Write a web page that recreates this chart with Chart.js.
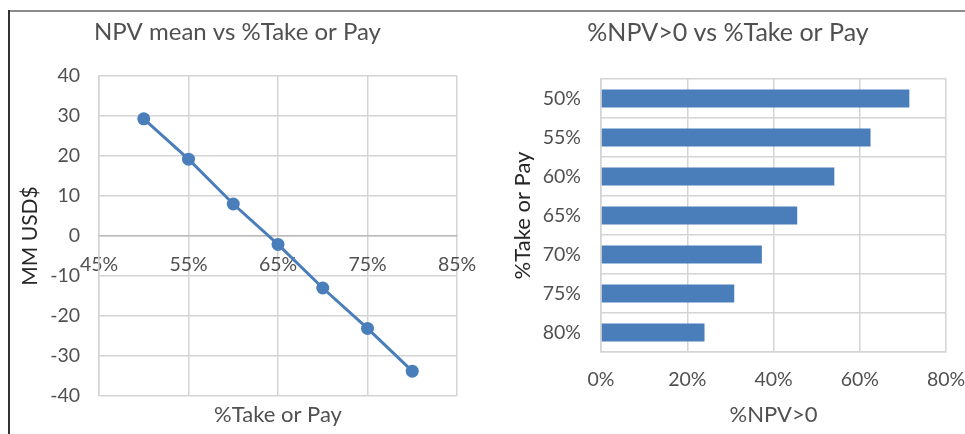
<!DOCTYPE html>
<html>
<head>
<meta charset="utf-8">
<script src="https://cdn.jsdelivr.net/npm/chart.js@4.4.1/dist/chart.umd.min.js"></script>
<style>
  body { margin: 0; background: #fff; width: 965px; height: 434px; position: relative; overflow: hidden; }
  #frameTop { position: absolute; left: 8px; top: 10px; width: 957px; height: 2px; background: #8c8c8c; }
  #frameLeft { position: absolute; left: 8px; top: 10px; width: 2px; height: 424px; background: #333; }
  .box { position: absolute; top: 0; height: 434px; }
</style>
</head>
<body>
<div id="frameTop"></div>
<div id="frameLeft"></div>
<div class="box" style="left:10px;width:470px"><canvas id="npvChart" width="470" height="434"></canvas></div>
<div class="box" style="left:480px;width:485px"><canvas id="probChart" width="485" height="434"></canvas></div>
<script>
// data
var takeOrPay = [50, 55, 60, 65, 70, 75, 80];           // %
var npvMean = [29.3, 19.2, 8.0, -2.1, -13.0, -23.1, -33.8]; // MM USD$
var takeOrPayLabels = ['50%', '55%', '60%', '65%', '70%', '75%', '80%'];
var npvPositive = [71.5, 62.5, 54.1, 45.5, 37.3, 30.9, 24.0]; // %NPV>0

var blue = '#4a7ebb';
var gridColor = '#d4d4d4';
var tickColor = '#505050';
var fontFam = 'Lato, "Open Sans", sans-serif';
var tickFont = { family: fontFam, size: 19.5 };
var axisTitleFont = { family: fontFam, size: 22 };

function pct(v) { return v + '%'; }

// tick padding also gets added to the side padding, take it back out
function noSidePad(scale) {
  scale.paddingLeft = 0;
  scale.paddingRight = 0;
}

// LEFT: NPV mean vs %Take or Pay
var points = takeOrPay.map(function (t, i) { return {x: t, y: npvMean[i]}; });
new Chart(document.getElementById('npvChart'), {
  type: 'scatter',
  data: {
    datasets: [{
      data: points,
      showLine: true,
      borderColor: blue,
      backgroundColor: blue,
      borderWidth: 3,
      pointRadius: 6.5,
      pointBorderWidth: 0
    }]
  },
  options: {
    responsive: false,
    animation: false,
    layout: { padding: { top: 0, right: 23, bottom: 0, left: 8 } },
    plugins: {
      legend: { display: false },
      tooltip: { enabled: false },
      title: {
        display: true,
        text: 'NPV mean vs %Take or Pay',
        color: tickColor,
        font: { family: fontFam, size: 24, weight: 'normal' },
        padding: { top: 17.6, bottom: 29.6 }
      }
    },
    scales: {
      x: {
        type: 'linear',
        position: { y: 0 },
        min: 45, max: 85,
        ticks: { stepSize: 10, callback: pct, padding: 17, color: tickColor, font: tickFont },
        grid: { color: gridColor, lineWidth: 1.5, drawTicks: false },
        border: { color: '#bababa', width: 1.5 },
        afterFit: noSidePad
      },
      xt: {
        type: 'linear',
        position: 'bottom',
        min: 45, max: 85,
        ticks: { display: false },
        grid: { display: false, drawTicks: false },
        border: { display: false },
        title: {
          display: true,
          text: '%Take or Pay',
          color: tickColor,
          font: axisTitleFont,
          padding: { top: 0, bottom: 5.8 }
        },
        afterFit: function (scale) { scale.height = 38; noSidePad(scale); }
      },
      y: {
        min: -40, max: 40,
        ticks: { stepSize: 10, padding: 19, color: tickColor, font: tickFont },
        grid: { color: gridColor, lineWidth: 1.5, drawTicks: false },
        border: { color: gridColor, width: 1.5 },
        title: {
          display: true,
          text: 'MM USD$',
          color: '#262626',
          font: { family: fontFam, size: 21 },
          padding: { top: 0, bottom: 0 }
        },
        afterFit: function (scale) { scale.width = 81; }
      }
    }
  }
});

// RIGHT: %NPV>0 vs %Take or Pay
new Chart(document.getElementById('probChart'), {
  type: 'bar',
  data: {
    labels: takeOrPayLabels,
    datasets: [{
      data: npvPositive,
      backgroundColor: blue,
      barPercentage: 0.46,
      categoryPercentage: 1
    }]
  },
  options: {
    indexAxis: 'y',
    responsive: false,
    animation: false,
    layout: { padding: { top: 0, right: 19, bottom: 0, left: 30 } },
    plugins: {
      legend: { display: false },
      tooltip: { enabled: false },
      title: {
        display: true,
        text: '%NPV>0 vs %Take or Pay',
        color: tickColor,
        font: { family: fontFam, size: 25, weight: 'normal' },
        padding: { top: 18, bottom: 31 }
      }
    },
    scales: {
      x: {
        min: 0, max: 80,
        ticks: { stepSize: 20, callback: pct, padding: 16, color: tickColor, font: tickFont },
        grid: { color: gridColor, lineWidth: 1.5, drawTicks: false },
        border: { color: gridColor, width: 1.5 },
        title: {
          display: true,
          text: '%NPV>0',
          color: tickColor,
          font: axisTitleFont,
          padding: { top: 0, bottom: 5.8 }
        },
        afterFit: function (scale) { scale.height = 82; noSidePad(scale); }
      },
      y: {
        ticks: { padding: 20, color: tickColor, font: tickFont },
        grid: { color: gridColor, lineWidth: 1.5, drawTicks: false },
        border: { color: gridColor, width: 1.5 },
        title: {
          display: true,
          text: '%Take or Pay',
          color: '#262626',
          font: axisTitleFont,
          padding: { top: 0, bottom: 0 }
        },
        afterFit: function (scale) { scale.width = 91; }
      }
    }
  }
});
</script>
</body>
</html>
